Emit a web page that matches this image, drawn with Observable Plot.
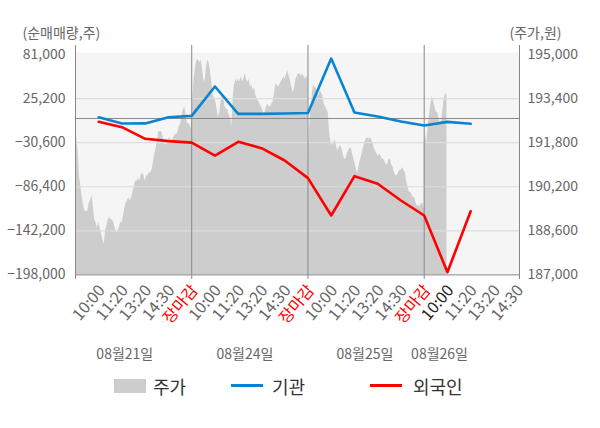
<!DOCTYPE html>
<html>
<head>
<meta charset="utf-8">
<script src="https://cdn.jsdelivr.net/npm/d3@7"></script>
<script src="https://cdn.jsdelivr.net/npm/@observablehq/plot@0.6"></script>
<style>
  html, body { margin: 0; padding: 0; background: #fff; }
  #wrap { position: relative; width: 600px; height: 428px; font-family: "Noto Sans CJK KR", "Noto Sans", sans-serif; }
  .lg { position: absolute; }
  .lgt { position: absolute; font-size: 18px; line-height: 24px; color: #333; top: 374px; }
</style>
</head>
<body>
<div id="wrap"></div>
<script>
// ---- data ----
const timeLabels = ["10:00","11:20","13:20","14:30","장마감",
                    "10:00","11:20","13:20","14:30","장마감",
                    "10:00","11:20","13:20","14:30","장마감",
                    "10:00","11:20","13:20","14:30"];
const dates = ["08월21일","08월24일","08월25일","08월26일"];
const dateLabelAt = [2.12, 7.29, 12.45, 15.66];

// 순매매량 (주), one value per time label (1..17)
const institution = [1600, -6300, -6200, 1600, 3300, 40500, 5900, 5900, 6400, 7000, 75800, 7500, 2600, -3800, -8900, -4300, -6700];
const foreigner   = [-4200, -11000, -25700, -28700, -30500, -46900, -29500, -37600, -53200, -75500, -122800, -73000, -82700, -103800, -122800, -194600, -117400];

// 주가 (원), intraday
const price0821 = [192000,192000,191400,190500,190200,189800,189500,189300,189300,189300,189600,189700,189900,189500,189000,188900,188700,188900,188700,188500,188300,188100,188600,188800,189000,189100,189000,189000,188900,188700,188500,188600,188700,188900,188900,189100,189400,189600,189700,189800,189700,189800,190000,190200,190400,190400,190500,190400,190600,190700,190600,190400,190600,190600,190700,190700,190800,191100,191400,191600,191900,192200,192200,192200,192000,191800,191700,191800,191900,192000,191900,191900,192000,192100,192100,192200,192400,192500,192800,193000,193100,192700,192500,192500,192400,192300];
const price0824 = [192600,193600,194200,194600,194800,194800,194700,194800,194500,194100,194000,194500,194800,194700,194400,194000,193500,193400,193300,193000,192700,192900,193300,193500,193400,193100,193000,193000,192800,192700,192400,193400,193900,194100,194000,194100,194000,194200,194000,194100,194300,194100,194000,194100,193800,193900,193700,193800,193500,193400,193300,193200,193100,193000,192800,192900,193100,193200,193100,193100,193200,193300,193600,193900,193900,193800,193900,194000,194100,194200,194100,194300,194400,194200,194000,193800,193600,193800,194100,194200,194300,194300,194200,194300,194200,194100,194200,194100];
const price0825 = [191000,192200,192900,193400,193900,193800,193800,193600,193500,193700,193600,193500,193200,193100,193000,192900,192200,191800,191700,191800,191900,191700,191500,191600,191700,191600,191400,191200,191200,191400,191500,191600,191600,191400,191200,191000,190800,190700,191000,191200,191400,191600,191800,191900,192000,191900,192000,191900,191800,191600,191500,191400,191300,191400,191300,191200,191200,191100,191000,191000,191200,191200,191000,190900,190700,190600,190600,190700,190800,190800,190900,190800,190700,190400,190200,190000,190000,189900,189800,189800,189600,189500,189500,189500,189600,189600,189400];
const price0826 = [191700,192100,191800,192400,192800,193200,193500,193300,193100,192900,192900,192700,192500,192600,193000,193400,193600,193500];

const leftTicks  = [81000, 25200, -30600, -86400, -142200, -198000];
const rightTicks = [195000, 193400, 191800, 190200, 188600, 187000];
const gridTicks  = [25200, -30600, -86400, -142200];

// ---- derived ----
const yMin = -198000, yMax = 81000, pMin = 187000, pMax = 195000;
const toLeft = p => yMin + (p - pMin) / (pMax - pMin) * (yMax - yMin);
const xMax = 19.1;

const days = [
  {p: price0821, start: 0, span: 5},
  {p: price0824, start: 5, span: 5},
  {p: price0825, start: 10, span: 5},
  {p: price0826, start: 15, span: 0.98}
];
const priceData = days.flatMap(d => d.p.map((v, i) => ({x: d.start + i / (d.p.length - 1) * d.span, v: toLeft(v)})));
const flows = institution.map((v, i) => ({i: i + 1, inst: v, frgn: foreigner[i]}));
const labelData = timeLabels.map((t, i) => ({i: i + 1, t, c: t === "장마감" ? "#ff0000" : (i === 15 ? "#222222" : "#666666")}));
const dateData = dates.map((d, i) => ({x: dateLabelAt[i], d}));
const fmt = d3.format(",");

const chart = Plot.plot({
  width: 600,
  height: 428,
  marginLeft: 75,
  marginRight: 81,
  marginTop: 45,
  marginBottom: 154,
  x: {domain: [0, xMax], axis: null},
  y: {domain: [yMin, yMax], range: [274.4, 54], axis: null},
  color: {type: "identity"},
  style: {fontFamily: "'Noto Sans CJK KR', 'Noto Sans', sans-serif", fontSize: "14px", background: "transparent", overflow: "visible"},
  marks: [
    Plot.frame({fill: "#f5f5f5", stroke: null, insetTop: 7}),
    Plot.areaY(priceData, {x: "x", y1: () => yMin, y2: "v", fill: "#cdcdcd"}),
    Plot.ruleY(gridTicks, {stroke: "#dddddd", strokeWidth: 1.2}),
    Plot.ruleY([0], {stroke: "#888888"}),
    Plot.ruleY([yMin], {stroke: "#888888"}),
    Plot.ruleX([0, 5, 10, 15, xMax], {stroke: "#888888"}),
    Plot.axisX({ticks: [0, 5, 10, 15, xMax], tickSize: 5, tickFormat: () => "", color: "#888888"}),
    Plot.line(flows, {x: "i", y: "inst", stroke: "#0a84d2", strokeWidth: 2.6}),
    Plot.line(flows, {x: "i", y: "frgn", stroke: "#ff0000", strokeWidth: 2.6}),
    Plot.axisY({anchor: "left", ticks: leftTicks, tickFormat: fmt, tickSize: 0, tickPadding: 10, color: "#666666", fontSize: 14}),
    Plot.axisY({anchor: "right", ticks: leftTicks, tickFormat: d => fmt(rightTicks[leftTicks.indexOf(d)]), tickSize: 0, tickPadding: 8, color: "#666666", fontSize: 14}),
    Plot.text(labelData, {x: "i", text: "t", fill: "c", frameAnchor: "bottom", lineAnchor: "middle", rotate: -50, textAnchor: "end", dy: 13, dx: 3, fontSize: 16}),
    Plot.text(dateData, {x: "x", text: "d", frameAnchor: "bottom", lineAnchor: "middle", dy: 80, fill: "#666666", fontSize: 14}),
    Plot.text(["(순매매량,주)"], {frameAnchor: "top-left", lineAnchor: "middle", textAnchor: "start", dx: -53, dy: -12, fill: "#666666", fontSize: 14}),
    Plot.text(["(주가,원)"], {frameAnchor: "top-right", lineAnchor: "middle", textAnchor: "start", dx: -10, dy: -12, fill: "#666666", fontSize: 14})
  ]
});

const wrap = document.getElementById("wrap");
wrap.appendChild(chart);

const legend = [
  {html: '<div class="lg" style="left:114px;top:379px;width:32px;height:14px;background:#cdcdcd"></div>'},
  {html: '<div class="lgt" style="left:153px">주가</div>'},
  {html: '<div class="lg" style="left:231px;top:384px;width:32px;height:3px;background:#0a84d2"></div>'},
  {html: '<div class="lgt" style="left:272px">기관</div>'},
  {html: '<div class="lg" style="left:370px;top:384px;width:32px;height:3px;background:#ff0000"></div>'},
  {html: '<div class="lgt" style="left:413px">외국인</div>'}
];
wrap.insertAdjacentHTML("beforeend", legend.map(d => d.html).join(""));
</script>
</body>
</html>
